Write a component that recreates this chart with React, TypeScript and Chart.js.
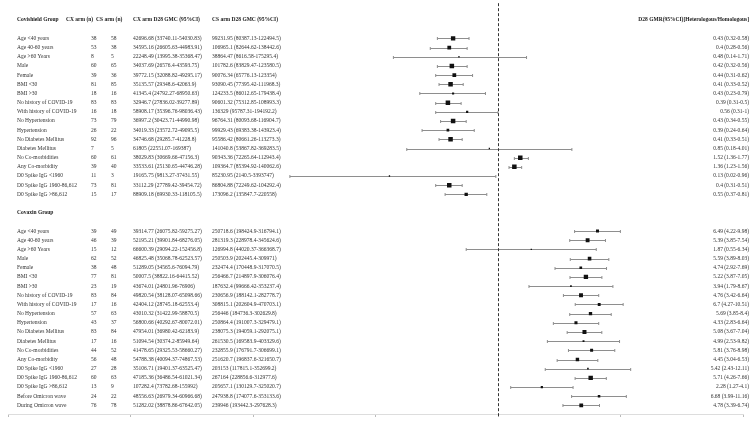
import React, { useEffect, useRef } from "react";
import { Chart, registerables } from "chart.js";

Chart.register(...registerables);

// ---------- DATA ----------
const HEADER_LABEL = "Covishield Group";
const HEADER_CXN = "CX arm (n)";
const HEADER_CSN = "CS arm (n)";
const HEADER_CXGMC = "CX arm D28 GMC (95%CI)";
const HEADER_CSGMC = "CS arm D28 GMC (95%CI)";
const HEADER_GMR = "D28 GMR(95%CI)[Heterologous/Homologous]";
const GROUP2_TITLE = "Covaxin Group";

const COVISHIELD_LABELS = [
  "Age <40 years", "Age 40-60 years", "Age >60 Years", "Male", "Female", "BMI <30", "BMI >30",
  "No history of COVID-19", "With history of COVID-19", "No Hypertension", "Hypertension",
  "No Diabetes Mellitus", "Diabetes Mellitus", "No Co-morbidities", "Any Co-morbidity",
  "D0 Spike IgG <1960", "D0 Spike IgG 1960-86,612", "D0 Spike IgG >86,612",
];
const COVISHIELD_CX_N = [38, 53, 8, 60, 39, 81, 18, 83, 16, 73, 26, 92, 7, 60, 39, 11, 73, 15];
const COVISHIELD_CS_N = [58, 38, 5, 65, 36, 85, 16, 83, 18, 79, 22, 96, 5, 61, 40, 3, 81, 17];
const COVISHIELD_CX_GMC = [
  "42696.68 (33740.11-54030.83)", "34595.16 (26605.63-44983.91)", "22248.49 (13995.38-35368.47)",
  "34037.69 (26576.4-43593.75)", "39772.15 (32088.82-49295.17)", "35135.57 (29348.6-42063.9)",
  "41345.4 (24792.27-68950.63)", "32946.7 (27836.02-39277.89)", "58908.17 (35396.76-98036.43)",
  "36997.2 (30423.71-44990.98)", "34019.33 (23572.72-49095.5)", "34746.68 (29285.7-41228.8)",
  "61805 (22551.07-169387)", "38029.83 (30669.66-47156.3)", "33533.61 (25130.65-44746.28)",
  "19165.75 (9813.27-37431.55)", "33112.29 (27789.42-39454.72)", "88909.18 (69930.33-118105.5)",
];
const COVISHIELD_CS_GMC = [
  "99231.95 (80387.13-122494.5)", "106965.1 (82644.62-138442.6)", "38864.47 (8616.58-175295.4)",
  "101782.6 (83829.47-123580.5)", "90076.34 (65776.13-123354)", "93090.45 (77395.42-111968.3)",
  "124233.5 (86012.65-179438.4)", "90601.32 (75312.85-108993.3)", "136329 (95787.31-194192.2)",
  "96764.31 (80093.68-116904.7)", "99929.43 (69383.38-143923.4)", "95586.42 (80661.26-113273.3)",
  "141040.8 (53867.82-369283.5)", "90343.36 (72265.64-112943.4)", "109364.7 (85394.92-140062.6)",
  "85230.95 (2140.5-3393747)", "86804.88 (72249.62-104292.4)", "173096.2 (135847.7-220558)",
];
const COVISHIELD_GMR = [0.43, 0.4, 0.48, 0.42, 0.44, 0.41, 0.43, 0.39, 0.56, 0.43, 0.39, 0.41, 0.85, 1.52, 1.36, 0.13, 0.4, 0.55];
const COVISHIELD_GMR_LO = [0.32, 0.28, 0.14, 0.32, 0.31, 0.33, 0.23, 0.31, 0.31, 0.34, 0.24, 0.33, 0.18, 1.36, 1.23, 0.02, 0.31, 0.37];
const COVISHIELD_GMR_HI = [0.58, 0.56, 1.71, 0.56, 0.62, 0.52, 0.79, 0.5, 1, 0.55, 0.64, 0.51, 4.01, 1.77, 1.56, 0.96, 0.51, 0.81];

const COVAXIN_LABELS = [
  "Age <40 years", "Age 40-60 years", "Age >60 Years", "Male", "Female", "BMI <30", "BMI >30",
  "No history of COVID-19", "With history of COVID-19", "No Hypertension", "Hypertension",
  "No Diabetes Mellitus", "Diabetes Mellitus", "No Co-morbidities", "Any Co-morbidity",
  "D0 Spike IgG <1960", "D0 Spike IgG 1960-86,612", "D0 Spike IgG >86,612",
  "Before Omicron wave", "During Omicron wave",
];
const COVAXIN_CX_N = [39, 46, 15, 62, 38, 77, 23, 83, 17, 57, 43, 83, 17, 44, 56, 27, 60, 13, 24, 76];
const COVAXIN_CS_N = [49, 39, 12, 52, 48, 81, 19, 84, 16, 63, 37, 84, 16, 52, 48, 28, 63, 9, 22, 78];
const COVAXIN_CX_GMC = [
  "39314.77 (26075.82-59275.27)", "52195.21 (39901.84-68276.05)", "66600.39 (29094.22-152456.8)",
  "46825.48 (35068.78-62523.57)", "51289.05 (34565.6-76094.79)", "50007.5 (38822.16-64415.52)",
  "43674.01 (24801.96-76906)", "49820.54 (38128.07-65098.66)", "42404.12 (28745.18-62553.4)",
  "43010.32 (31422.99-58870.5)", "56800.66 (40292.67-80072.01)", "47954.01 (36980.42-62183.9)",
  "51094.54 (30374.2-85949.64)", "41478.65 (29325.53-58660.27)", "54788.38 (40094.37-74867.53)",
  "35106.71 (19401.37-63525.47)", "47185.36 (36486.54-61021.34)", "107282.4 (73782.68-155992)",
  "48556.63 (26979.34-60966.68)", "51282.02 (38878.86-67642.05)",
];
const COVAXIN_CS_GMC = [
  "250718.6 (198424.9-316794.1)", "281319.3 (228978.4-345624.6)", "126994.8 (44020.37-366368.7)",
  "250503.9 (202445.4-309971)", "232474.4 (170448.9-317070.5)", "256466.7 (214897.9-306076.4)",
  "187632.4 (99666.42-353237.4)", "230656.9 (188142.1-282778.7)", "308815.1 (202604.9-470703.1)",
  "256446 (184736.3-302629.8)", "250864.4 (191007.3-329479.1)", "238075.3 (194059.1-292075.1)",
  "261530.5 (169583.9-403329.6)", "232855.9 (176791.7-306699.1)", "251620.7 (196837.6-321650.7)",
  "203153 (117815.1-352699.2)", "267164 (228856.6-312977.6)", "205657.1 (130129.7-325020.7)",
  "247938.8 (174077.6-353133.6)", "239946 (193442.3-297628.3)",
];
const COVAXIN_GMR = [6.49, 5.39, 1.87, 5.59, 4.74, 5.22, 3.94, 4.76, 6.7, 5.69, 4.33, 5.08, 4.99, 5.81, 4.45, 5.42, 5.71, 2.28, 6.68, 4.78];
const COVAXIN_GMR_LO = [4.22, 3.85, 0.55, 3.89, 2.92, 3.87, 1.79, 3.42, 4.27, 3.85, 2.83, 3.67, 2.53, 3.76, 3.04, 2.43, 4.26, 1.27, 3.99, 3.39];
const COVAXIN_GMR_HI = [9.98, 7.54, 6.34, 8.03, 7.69, 7.05, 8.67, 6.64, 10.51, 8.4, 6.64, 7.04, 9.82, 8.98, 6.53, 12.11, 7.66, 4.1, 11.16, 6.74];

const X_TICKS = [0.0001, 0.001, 0.01, 0.1, 1, 10, 100];
const REF_VALUE = 1;

// ---------- LAYOUT (row slots & columns) ----------
const ROW_HEADER = 0;
const ROW_G1_START = 2;
const ROW_G2_TITLE = 21;
const ROW_G2_START = 23;

const COL_LABEL = 17;
const COL_CXN = 91;
const COL_CSN = 111;
const COL_CXN_HEAD = 66;
const COL_CSN_HEAD = 96;
const COL_CXGMC = 133;
const COL_CSGMC = 212;
const COL_GMR_RIGHT = 749;

const FONT_FAMILY = '"Liberation Serif", "Times New Roman", serif';

type Row = {
  row: number; label: string; cxn: number; csn: number; cxg: string; csg: string;
  est: number; lo: number; hi: number;
};

function buildRows(): Row[] {
  const out: Row[] = [];
  COVISHIELD_LABELS.forEach((l, i) => out.push({
    row: ROW_G1_START + i, label: l, cxn: COVISHIELD_CX_N[i], csn: COVISHIELD_CS_N[i],
    cxg: COVISHIELD_CX_GMC[i], csg: COVISHIELD_CS_GMC[i],
    est: COVISHIELD_GMR[i], lo: COVISHIELD_GMR_LO[i], hi: COVISHIELD_GMR_HI[i],
  }));
  COVAXIN_LABELS.forEach((l, i) => out.push({
    row: ROW_G2_START + i, label: l, cxn: COVAXIN_CX_N[i], csn: COVAXIN_CS_N[i],
    cxg: COVAXIN_CX_GMC[i], csg: COVAXIN_CS_GMC[i],
    est: COVAXIN_GMR[i], lo: COVAXIN_GMR_LO[i], hi: COVAXIN_GMR_HI[i],
  }));
  return out;
}

function markerRadius(r: Row): number {
  const w = Math.log(r.hi) - Math.log(r.lo);
  const side = Math.max(1.3, Math.min(4.5, 2.6 / w));
  return side / Math.SQRT2;
}

export default function App() {
  const ref = useRef<HTMLCanvasElement | null>(null);

  useEffect(() => {
    const canvas = ref.current;
    if (!canvas) return;
    const rows = buildRows();

    const forestPlugin = {
      id: "forestExtras",
      beforeDatasetsDraw(chart: any) {
        const { ctx, chartArea } = chart;
        const x = chart.scales.x;
        const y = chart.scales.y;
        ctx.save();
        // whiskers
        ctx.strokeStyle = "#8e8e8e";
        ctx.lineWidth = 1;
        rows.forEach((r) => {
          const yy = Math.round(y.getPixelForValue(r.row)) + 0.5;
          const xl = x.getPixelForValue(r.lo);
          const xh = x.getPixelForValue(r.hi);
          ctx.beginPath();
          ctx.moveTo(xl, yy); ctx.lineTo(xh, yy);
          ctx.moveTo(xl, yy - 1.5); ctx.lineTo(xl, yy + 1.5);
          ctx.moveTo(xh, yy - 1.5); ctx.lineTo(xh, yy + 1.5);
          ctx.stroke();
        });
        // reference line
        const xr = Math.round(x.getPixelForValue(REF_VALUE)) + 0.5;
        ctx.strokeStyle = "#333";
        ctx.setLineDash([3, 2]);
        ctx.beginPath();
        ctx.moveTo(xr, chartArea.top);
        ctx.lineTo(xr, chartArea.bottom + 4);
        ctx.stroke();
        ctx.restore();
      },
      afterDraw(chart: any) {
        const { ctx } = chart;
        const y = chart.scales.y;
        ctx.save();
        ctx.textBaseline = "middle";
        const yh = y.getPixelForValue(ROW_HEADER);
        ctx.fillStyle = "#1a1a1a";
        ctx.font = `bold 5.5px ${FONT_FAMILY}`;
        ctx.textAlign = "left";
        ctx.fillText(HEADER_LABEL, COL_LABEL, yh);
        ctx.fillText(HEADER_CXN, COL_CXN_HEAD, yh);
        ctx.fillText(HEADER_CSN, COL_CSN_HEAD, yh);
        ctx.fillText(HEADER_CXGMC, COL_CXGMC, yh);
        ctx.fillText(HEADER_CSGMC, COL_CSGMC, yh);
        ctx.textAlign = "right";
        ctx.fillText(HEADER_GMR, COL_GMR_RIGHT, yh);
        ctx.textAlign = "left";
        ctx.fillText(GROUP2_TITLE, COL_LABEL, y.getPixelForValue(ROW_G2_TITLE));

        ctx.font = `5.5px ${FONT_FAMILY}`;
        ctx.fillStyle = "#333";
        rows.forEach((r) => {
          const yy = y.getPixelForValue(r.row);
          ctx.textAlign = "left";
          ctx.fillText(r.label, COL_LABEL, yy);
          ctx.fillText(String(r.cxn), COL_CXN, yy);
          ctx.fillText(String(r.csn), COL_CSN, yy);
          ctx.fillText(r.cxg, COL_CXGMC, yy);
          ctx.fillText(r.csg, COL_CSGMC, yy);
          ctx.textAlign = "right";
          ctx.fillText(`${r.est} (${r.lo}-${r.hi})`, COL_GMR_RIGHT, yy);
        });
        ctx.restore();
      },
    };

    const chart = new Chart(canvas, {
      type: "scatter",
      data: {
        datasets: [
          {
            data: rows.map((r) => ({ x: r.est, y: r.row })),
            pointStyle: "rect",
            pointRadius: rows.map(markerRadius),
            pointBackgroundColor: "#111",
            pointBorderWidth: 0,
            pointHoverRadius: rows.map(markerRadius),
          },
        ],
      },
      options: {
        responsive: false,
        animation: false,
        events: [],
        layout: { padding: { left: 8, right: 7, top: 0, bottom: 9 } },
        plugins: { legend: { display: false }, tooltip: { enabled: false } },
        scales: {
          x: {
            type: "logarithmic",
            min: X_TICKS[0],
            max: X_TICKS[X_TICKS.length - 1],
            position: "bottom",
            afterBuildTicks: (scale: any) => {
              scale.ticks = X_TICKS.map((v) => ({ value: v }));
            },
            grid: { drawOnChartArea: false, drawTicks: true, tickLength: 3, color: "#bbb" },
            border: { display: true, color: "#ddd" },
            ticks: { display: false },
          },
          y: {
            type: "linear",
            reverse: true,
            min: -1.84,
            max: 42.94,
            display: false,
          },
        },
      },
      plugins: [forestPlugin],
    });
    return () => chart.destroy();
  }, []);

  return (
    <div style={{ position: "absolute", left: 0, top: 0, width: 750, height: 426, background: "#fff" }}>
      <canvas ref={ref} width={750} height={426} style={{ display: "block" }} />
    </div>
  );
}
